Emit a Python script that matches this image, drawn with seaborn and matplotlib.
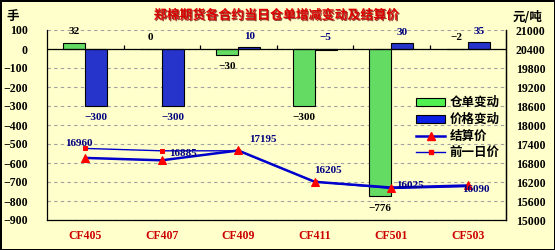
import numpy as np
import pandas as pd
import matplotlib
matplotlib.use("Agg")
import matplotlib.pyplot as plt
import seaborn as sns
from matplotlib.patches import Patch
from matplotlib.lines import Line2D
import matplotlib.patheffects as pe

# ---------------- data ----------------
contracts = ["CF405", "CF407", "CF409", "CF411", "CF501", "CF503"]
receipt_change = [32, 0, -30, -300, -776, -2]        # 仓单变动 (手)
price_change = [-300, -300, 10, -5, 30, 35]          # 价格变动
settle_price = [16960, 16885, 17195, 16205, 16025, 16090]   # 结算价
prev_price = [17260, 17185, 17185, 16210, 15995, 16055]     # 前一日价
left_ticks = list(range(-900, 101, 100))
right_ticks = list(range(15000, 21001, 600))
title = "郑棉期货各合约当日仓单增减变动及结算价"
series_names = ["仓单变动", "价格变动", "结算价", "前一日价"]

# ---------------- style ----------------
BG = "#FFFFCC"
GREEN = "#50F050"
BLUE = "#0A1EE6"
LINE_BLUE = "#0000CC"
NAVY = "#000080"
DARKRED = "#CC0000"
CJK = ["Noto Sans CJK SC", "DejaVu Sans"]
NUM = ["Liberation Serif", "DejaVu Serif"]

plt.rcParams["font.family"] = CJK
plt.rcParams["axes.unicode_minus"] = True

fig = plt.figure(figsize=(5.55, 2.5), dpi=100)
fig.patch.set_facecolor(BG)
fig.patch.set_edgecolor("black")
fig.patch.set_linewidth(2)

ax = fig.add_axes([47 / 555, 1 - 220 / 250, 459 / 555, 190 / 250])
ax.set_facecolor(BG)

df = pd.DataFrame({
    "合约": contracts * 2,
    "系列": [series_names[0]] * len(contracts) + [series_names[1]] * len(contracts),
    "值": receipt_change + price_change,
})
sns.barplot(data=df, x="合约", y="值", hue="系列", order=contracts,
            hue_order=series_names[:2], palette=[GREEN, BLUE],
            width=0.58, edgecolor="black", linewidth=0.8,
            errorbar=None, legend=False, ax=ax, zorder=3)

ax.set_xlim(-0.5, len(contracts) - 0.5)
ax.set_ylim(-900, 100)
ax.set_yticks(left_ticks)
ax.yaxis.grid(True, linestyle=(0, (3, 3)), color="#A0A0A0", linewidth=0.8)
ax.set_axisbelow(True)
ax.axhline(0, color="black", linewidth=0.9, zorder=4)
pos = np.arange(len(contracts))
ax.vlines(pos[:-1] + 0.5, 0, 20, color="black", linewidth=0.9, zorder=4)

ax.spines["top"].set_visible(False)
for s in ["left", "right", "bottom"]:
    ax.spines[s].set_color("black")
    ax.spines[s].set_linewidth(0.9)
ax.set_xlabel("")
ax.set_ylabel("")
ax.tick_params(axis="x", length=0, pad=7)
ax.tick_params(axis="y", length=0, pad=14)
for lab in ax.get_xticklabels():
    lab.set_family(NUM)
    lab.set_fontweight("bold")
    lab.set_fontsize(8.5)
    lab.set_color(DARKRED)
for lab in ax.get_yticklabels():
    lab.set_family(NUM)
    lab.set_fontweight("bold")
    lab.set_fontsize(8.5)

# bar value labels
bw = 0.29
for i, (g, b) in enumerate(zip(receipt_change, price_change)):
    for v, dx, col in ((g, -bw / 2, "black"), (b, bw / 2, NAVY)):
        txt = f"{v}".replace("-", "\u2212")
        if v > -20:
            ax.annotate(txt, (i + dx, max(v, 0)),
                        xytext=(0, 11), textcoords="offset pixels",
                        ha="center", va="center", fontsize=8, fontweight="bold",
                        family=NUM, color=col, zorder=6)
        else:
            ax.annotate(txt, (i + dx, v),
                        xytext=(0, -12), textcoords="offset pixels",
                        ha="center", va="center", fontsize=8, fontweight="bold",
                        family=NUM, color=col, zorder=6)

# ---------------- right axis / price lines ----------------
ax2 = ax.twinx()
sns.lineplot(x=pos, y=prev_price, ax=ax2, color=LINE_BLUE, linewidth=1.0,
             marker="s", markersize=2.8, markerfacecolor="red",
             markeredgecolor="red", sort=False, zorder=5)
sns.lineplot(x=pos, y=settle_price, ax=ax2, color=LINE_BLUE, linewidth=1.8,
             marker="^", markersize=6, markerfacecolor="red",
             markeredgecolor="red", sort=False, zorder=6)
ax2.set_xlim(-0.5, len(contracts) - 0.5)
ax2.set_ylim(15000, 21000)
ax2.set_yticks(right_ticks)
ax2.set_ylabel("")
ax2.tick_params(axis="y", length=0, pad=7)
for lab in ax2.get_yticklabels():
    lab.set_family(NUM)
    lab.set_fontweight("bold")
    lab.set_fontsize(8.5)
for s in ["top", "left", "bottom"]:
    ax2.spines[s].set_visible(False)
ax2.spines["right"].set_color("black")
ax2.spines["right"].set_linewidth(0.9)

label_offsets = [(-6, 14), (21, 7), (25, 11), (13, 11), (19, 2), (8, -4)]
for i, (p, off) in enumerate(zip(settle_price, label_offsets)):
    ax2.annotate(str(p), (i, p), xytext=off, textcoords="offset pixels",
                 ha="center", va="center", fontsize=8, fontweight="bold",
                 family=NUM, color=NAVY, zorder=7)

# ---------------- legend ----------------
handles = [
    Patch(facecolor=GREEN, edgecolor="black", linewidth=0.8),
    Patch(facecolor=BLUE, edgecolor="black", linewidth=0.8),
    Line2D([], [], color=LINE_BLUE, linewidth=1.8, marker="^", markersize=6,
           markerfacecolor="red", markeredgecolor="red"),
    Line2D([], [], color=LINE_BLUE, linewidth=1.0, marker="s", markersize=2.8,
           markerfacecolor="red", markeredgecolor="red"),
]
fig.legend(handles, series_names, loc="upper left",
           bbox_to_anchor=(410 / 555, 1 - 90 / 250),
           frameon=False, borderpad=0, handlelength=2.3,
           handleheight=0.6, handletextpad=0.4, labelspacing=0.3,
           prop={"family": CJK, "weight": "bold", "size": 9})

# ---------------- texts ----------------
fig.text(276 / 555, 1 - 15 / 250, title, ha="center", va="center",
         fontsize=9.3, fontweight="bold", color="#DD0000",
         path_effects=[pe.withSimplePatchShadow(offset=(0.8, -0.8),
                                                shadow_rgbFace="#660000",
                                                alpha=0.7)])
fig.text(13 / 555, 1 - 16 / 250, "手", ha="center", va="center",
         fontsize=9, fontweight="bold", color="black")
fig.text(528 / 555, 1 - 17 / 250, "元/吨", ha="center", va="center",
         fontsize=9, fontweight="bold", color="black")

fig.savefig("out.png", dpi=100, facecolor=fig.get_facecolor(),
            edgecolor=fig.get_edgecolor())
